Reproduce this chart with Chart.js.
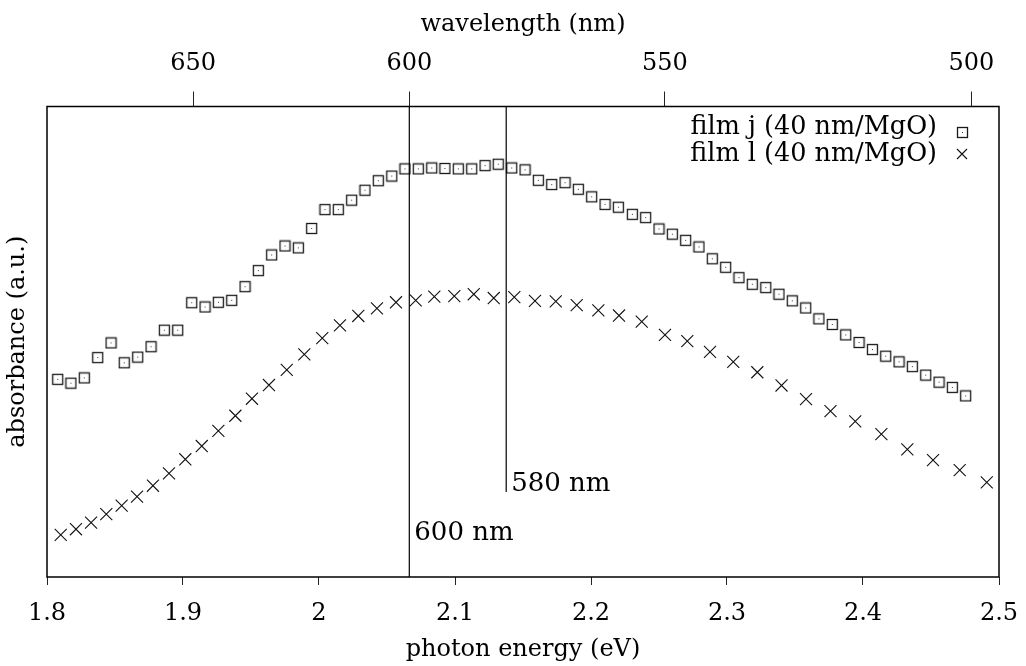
<!DOCTYPE html>
<html>
<head>
<meta charset="utf-8">
<script src="https://cdn.jsdelivr.net/npm/chart.js@4.4.1/dist/chart.umd.min.js"></script>
<style>
html, body { margin: 0; padding: 0; background: #fff; }
#wrap { width: 1026px; height: 666px; }
</style>
</head>
<body>
<div id="wrap"><canvas id="chart" width="1026" height="666"></canvas></div>
<script>
const HC = 1239.84; // eV*nm

// film j (squares)
const energy_j = [
    1.8079, 1.8176, 1.8274, 1.8373, 1.8471, 1.8568, 1.8667, 1.8765, 1.8863, 1.8961,
    1.9064, 1.9162, 1.9260, 1.9358, 1.9456, 1.9554, 1.9652, 1.9750, 1.9848, 1.9946,
    2.0044, 2.0142, 2.0240, 2.0338, 2.0436, 2.0535, 2.0632, 2.0730, 2.0829, 2.0926,
    2.1024, 2.1123, 2.1221, 2.1318, 2.1417, 2.1515, 2.1613, 2.1711, 2.1809, 2.1907,
    2.2005, 2.2103, 2.2201, 2.2304, 2.2402, 2.2500, 2.2598, 2.2696, 2.2794, 2.2892,
    2.2990, 2.3088, 2.3186, 2.3285, 2.3382, 2.3480, 2.3579, 2.3676, 2.3774, 2.3873,
    2.3971, 2.4069, 2.4167, 2.4265, 2.4363, 2.4461, 2.4559, 2.4657, 2.4755
];
const absorb_j = [
    0.418, 0.410, 0.421, 0.464, 0.495, 0.453, 0.465, 0.487, 0.522, 0.522,
    0.580, 0.571, 0.581, 0.585, 0.614, 0.648, 0.681, 0.700, 0.696, 0.737,
    0.777, 0.777, 0.797, 0.818, 0.838, 0.848, 0.863, 0.863, 0.865, 0.864,
    0.863, 0.863, 0.870, 0.873, 0.865, 0.861, 0.839, 0.830, 0.834, 0.820,
    0.804, 0.788, 0.782, 0.767, 0.760, 0.736, 0.725, 0.712, 0.698, 0.673,
    0.655, 0.633, 0.619, 0.612, 0.598, 0.584, 0.569, 0.546, 0.534, 0.512,
    0.496, 0.481, 0.467, 0.455, 0.445, 0.427, 0.412, 0.401, 0.383
];

// film l (crosses)
const energy_l = [
    1.8101, 1.8213, 1.8324, 1.8436, 1.8549, 1.8662, 1.8779, 1.8897, 1.9017, 1.9138,
    1.9260, 1.9385, 1.9507, 1.9632, 1.9763, 1.9892, 2.0024, 2.0154, 2.0289, 2.0426,
    2.0566, 2.0711, 2.0848, 2.0995, 2.1138, 2.1285, 2.1436, 2.1588, 2.1741, 2.1895,
    2.2054, 2.2206, 2.2373, 2.2544, 2.2708, 2.2875, 2.3046, 2.3223, 2.3401, 2.3581,
    2.3761, 2.3943, 2.4135, 2.4326, 2.4515, 2.4711, 2.4910
];
const absorb_l = [
    0.089, 0.101, 0.115, 0.133, 0.151, 0.170, 0.193, 0.219, 0.249, 0.277,
    0.309, 0.341, 0.377, 0.406, 0.438, 0.471, 0.505, 0.532, 0.552, 0.568,
    0.581, 0.585, 0.593, 0.594, 0.598, 0.590, 0.592, 0.584, 0.583, 0.575,
    0.564, 0.553, 0.540, 0.512, 0.499, 0.476, 0.455, 0.433, 0.405, 0.376,
    0.351, 0.329, 0.302, 0.270, 0.247, 0.226, 0.200
];

const series_names = ['film j (40 nm/MgO)', 'film l (40 nm/MgO)'];
const energy_ticks = [1.8, 1.9, 2.0, 2.1, 2.2, 2.3, 2.4, 2.5];
const wavelength_ticks = [650, 600, 550, 500];

// vertical marker lines: wavelength, where the line stops, where its label sits
const marker_lines = [
    {nm: 600, end: 0, label: 0.078},
    {nm: 580, end: 0.18, label: 0.182}
];

const FONT = '"DejaVu Serif", "Liberation Serif", serif';

function toPoints(xs, ys){
    let pts = [];
    xs.forEach((v, i) => {
        pts.push({x: v, y: ys[i]});
    });
    return pts;
}

function makeSquare(){
    let c = document.createElement('canvas');
    c.width = 13;
    c.height = 13;
    let g = c.getContext('2d');
    g.strokeStyle = '#1a1a1a';
    g.lineWidth = 1.3;
    g.strokeRect(1.5, 1.5, 10, 10);
    g.fillStyle = '#333';
    g.fillRect(6, 6, 1, 1);
    return c;
}
const square_img = makeSquare();

// no extra room for the first/last tick label, the frame goes where the padding says
function fixWidth(scale, h){
    scale.height = h;
    scale.paddingLeft = 0;
    scale.paddingRight = 0;
}

const overlay = {
    id: 'overlay',
    afterDatasetsDraw(chart){
        const {ctx, chartArea: a} = chart;
        const x = chart.scales.x;
        const y = chart.scales.y;
        ctx.save();
        ctx.strokeStyle = '#000';
        ctx.lineWidth = 1.5;
        ctx.strokeRect(a.left, a.top, a.right - a.left, a.bottom - a.top);

        ctx.lineWidth = 1.2;
        ctx.fillStyle = '#000';
        ctx.font = '26px ' + FONT;
        ctx.textAlign = 'left';
        ctx.textBaseline = 'alphabetic';
        marker_lines.forEach(m => {
            let px = x.getPixelForValue(HC / m.nm);
            ctx.beginPath();
            ctx.moveTo(px, a.top);
            ctx.lineTo(px, y.getPixelForValue(m.end));
            ctx.stroke();
            ctx.fillText(m.nm + ' nm', px + 5, y.getPixelForValue(m.label));
        });

        // legend, text left of the markers
        ctx.font = '25.5px ' + FONT;
        ctx.textAlign = 'right';
        let tx = a.right - 62;
        let mx = a.right - 37;
        let rows = [a.top + 27.5, a.top + 54.5];
        ctx.fillText(series_names[0], tx, rows[0]);
        ctx.fillText(series_names[1], tx, rows[1]);
        ctx.drawImage(square_img, Math.round(mx - 6.5), Math.round(rows[0] - 8.5));
        ctx.strokeStyle = '#111';
        ctx.lineWidth = 1.1;
        let cy = rows[1] - 7;
        ctx.beginPath();
        ctx.moveTo(mx - 5, cy - 5); ctx.lineTo(mx + 5, cy + 5);
        ctx.moveTo(mx - 5, cy + 5); ctx.lineTo(mx + 5, cy - 5);
        ctx.stroke();
        ctx.restore();
    }
};

const bg = {
    id: 'bg',
    beforeDraw(chart){
        const {ctx} = chart;
        ctx.save();
        ctx.fillStyle = '#fff';
        ctx.fillRect(0, 0, chart.width, chart.height);
        ctx.restore();
    }
};

Chart.defaults.font.family = FONT;
Chart.defaults.color = '#000';

let chart = new Chart(document.getElementById('chart'), {
    type: 'scatter',
    data: {
        datasets: [{
            label: series_names[0],
            data: toPoints(energy_j, absorb_j),
            pointStyle: square_img,
            pointRadius: 6,
            showLine: false
        }, {
            label: series_names[1],
            data: toPoints(energy_l, absorb_l),
            pointStyle: 'crossRot',
            pointRadius: 8.5,
            borderColor: '#111',
            borderWidth: 1.1,
            showLine: false
        }]
    },
    options: {
        responsive: false,
        animation: false,
        layout: {padding: {left: 0, right: 27, top: 0, bottom: 0}},
        plugins: {
            legend: {display: false},
            tooltip: {enabled: false}
        },
        scales: {
            x: {
                type: 'linear',
                position: 'bottom',
                min: 1.8,
                max: 2.5,
                afterBuildTicks: (scale) => {
                    scale.ticks = energy_ticks.map(v => ({value: v}));
                },
                afterFit: (scale) => fixWidth(scale, 89),
                ticks: {
                    font: {size: 24},
                    padding: 14,
                    maxRotation: 0,
                    callback: (v) => String(Math.round(v * 10) / 10)
                },
                grid: {drawOnChartArea: false, drawTicks: true, tickLength: 8, color: '#222', lineWidth: 1},
                border: {display: false},
                title: {display: true, text: 'photon energy (eV)', font: {size: 24}, padding: {top: 0, bottom: 2}}
            },
            x2: {
                type: 'linear',
                position: 'top',
                min: 1.8,
                max: 2.5,
                afterBuildTicks: (scale) => {
                    scale.ticks = wavelength_ticks.map(w => ({value: HC / w}));
                },
                afterFit: (scale) => fixWidth(scale, 106.5),
                ticks: {
                    font: {size: 24},
                    padding: 13,
                    maxRotation: 0,
                    callback: (v) => String(Math.round(HC / v))
                },
                grid: {drawOnChartArea: false, drawTicks: true, tickLength: 15, color: '#222', lineWidth: 1},
                border: {display: false},
                title: {display: true, text: 'wavelength (nm)', font: {size: 24}, padding: {top: 10, bottom: 0}}
            },
            y: {
                min: 0,
                max: 0.995,
                afterFit: (scale) => { scale.width = 47; },
                ticks: {display: false},
                grid: {display: false},
                border: {display: false},
                title: {display: true, text: 'absorbance (a.u.)', font: {size: 24}, padding: {top: 3, bottom: 0}}
            }
        }
    },
    plugins: [bg, overlay]
});
</script>
</body>
</html>
